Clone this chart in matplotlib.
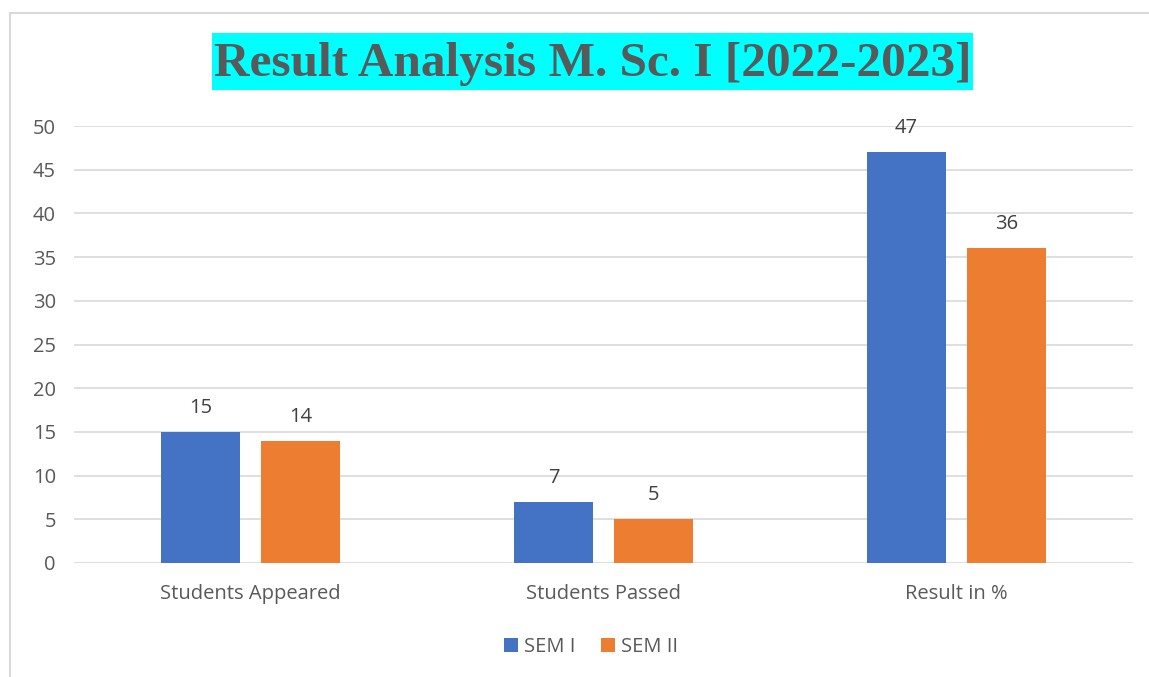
import matplotlib
matplotlib.use("Agg")
import matplotlib.pyplot as plt
from matplotlib.patches import Rectangle
from matplotlib.lines import Line2D
import numpy as np

categories = ["Students Appeared", "Students Passed", "Result in %"]
sem1 = [15, 7, 47]
sem2 = [14, 5, 36]
series_names = ["SEM I", "SEM II"]
yticks = [0, 5, 10, 15, 20, 25, 30, 35, 40, 45, 50]
title = "Result Analysis M. Sc. I [2022-2023]"

W, H = 1149, 677
fig = plt.figure(figsize=(W / 100, H / 100), dpi=100)
fig.patch.set_facecolor("white")

# outer chart border (left and top visible)
fig.add_artist(Line2D([10 / W, 10 / W], [0, 1 - 13 / H], color="#d9d9d9", lw=1.5))
fig.add_artist(Line2D([10 / W, 1], [1 - 13 / H, 1 - 13 / H], color="#d9d9d9", lw=1.5))

ax = fig.add_axes([74 / W, (H - 563) / H, (1133 - 74) / W, (563 - 126) / H])
x = np.arange(len(categories))
bw = 79 / 353
off = 50 / 353
b1 = ax.bar(x - off, sem1, bw, color="#4472C4", label=series_names[0], zorder=3)
b2 = ax.bar(x + off, sem2, bw, color="#ED7D31", label=series_names[1], zorder=3)

ax.set_xlim(-0.5, len(categories) - 0.5)
ax.set_ylim(0, 50)
ax.set_yticks(yticks)
ax.set_xticks(x)
ax.set_xticklabels(categories)
ax.grid(axis="y", color="#d9d9d9", lw=1.2, zorder=0)
for s in ax.spines.values():
    s.set_visible(False)
ax.tick_params(axis="both", length=0, labelsize=14.5, labelcolor="#595959")
ax.tick_params(axis="y", pad=13)
ax.tick_params(axis="x", pad=15)
for lab in ax.get_xticklabels() + ax.get_yticklabels():
    lab.set_family("Open Sans")

for bars, vals in ((b1, sem1), (b2, sem2)):
    for r, v in zip(bars, vals):
        ax.annotate(str(v), (r.get_x() + r.get_width() / 2, v), xytext=(0, 10),
                    textcoords="offset points", ha="center", va="bottom",
                    fontsize=14.5, color="#404040", family="Open Sans")

leg = fig.legend(handles=[b1, b2], labels=series_names, loc="center",
                 bbox_to_anchor=(591 / W, 1 - 647 / H), ncol=2, frameon=False,
                 handlelength=0.7, handleheight=0.7, handletextpad=0.3,
                 columnspacing=1.3, prop={"family": "Open Sans", "size": 14.5})
for t in leg.get_texts():
    t.set_color("#595959")

# title with cyan box
fig.add_artist(Rectangle((212 / W, 1 - 90 / H), (973 - 212) / W, (90 - 33) / H,
                         transform=fig.transFigure, facecolor="#00FFFF", edgecolor="none"))
fig.text(593 / W, 1 - 64 / H, title, ha="center", va="center", fontsize=35.5,
         fontweight="bold", family="Liberation Serif", color="#595959")

fig.savefig("out.png", dpi=100, facecolor="white")
